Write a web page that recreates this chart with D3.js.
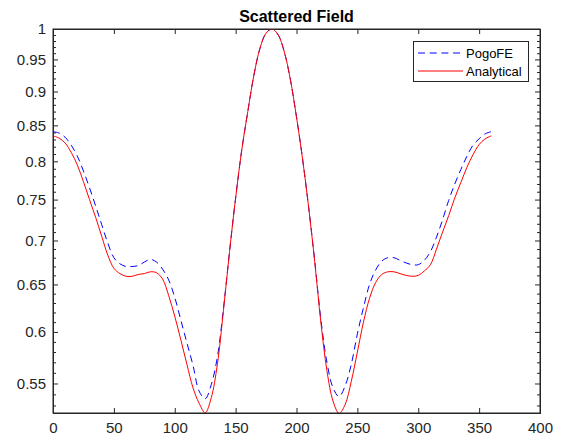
<!DOCTYPE html>
<html>
<head>
<meta charset="utf-8">
<script src="https://cdn.jsdelivr.net/npm/d3@7"></script>
<style>
  body { margin: 0; background: #fff; }
  svg { font-family: "Liberation Sans", Arial, sans-serif; }
  .tick text { fill: #262626; }
</style>
</head>
<body>
<div id="chart"></div>
<script>
// angle in degrees
const angles = [0, 5, 10, 15, 20, 25, 30, 35, 40, 45, 50, 55, 60, 65, 70, 75, 80, 85, 90,
    95, 100, 105, 110, 115, 120, 125, 130, 135, 140, 145, 150, 155, 160, 165, 170, 175, 180,
    185, 190, 195, 200, 205, 210, 215, 220, 225, 230, 235, 240, 245, 250, 255, 260, 265, 270,
    275, 280, 285, 290, 295, 300, 305, 310, 315, 320, 325, 330, 335, 340, 345, 350, 355, 360];

const pogoFE = [0.841, 0.839, 0.833, 0.822, 0.807, 0.787, 0.765, 0.742, 0.719, 0.697, 0.680,
    0.673, 0.670, 0.670, 0.671, 0.675, 0.678, 0.675, 0.667, 0.655, 0.636, 0.612, 0.589, 0.567,
    0.543, 0.536, 0.549, 0.575, 0.624, 0.687, 0.752, 0.815, 0.870, 0.925, 0.968, 0.993, 1.000,
    0.990, 0.962, 0.918, 0.862, 0.803, 0.740, 0.676, 0.613, 0.570, 0.546, 0.538, 0.548, 0.568,
    0.598, 0.625, 0.650, 0.666, 0.676, 0.680, 0.680, 0.677, 0.674, 0.672, 0.672, 0.677, 0.687,
    0.704, 0.725, 0.749, 0.770, 0.789, 0.807, 0.822, 0.831, 0.838, 0.841];

const analytical = [0.835, 0.832, 0.825, 0.812, 0.795, 0.773, 0.750, 0.728, 0.705, 0.683, 0.668,
    0.662, 0.659, 0.659, 0.661, 0.662, 0.664, 0.663, 0.656, 0.638, 0.616, 0.592, 0.568, 0.546,
    0.532, 0.5235, 0.537, 0.568, 0.622, 0.687, 0.752, 0.815, 0.870, 0.925, 0.968, 0.993, 1.000,
    0.990, 0.962, 0.918, 0.862, 0.803, 0.740, 0.675, 0.610, 0.562, 0.534, 0.523, 0.531, 0.552,
    0.580, 0.610, 0.635, 0.652, 0.661, 0.664, 0.664, 0.662, 0.660, 0.659, 0.660, 0.665, 0.672,
    0.690, 0.710, 0.730, 0.752, 0.772, 0.792, 0.809, 0.823, 0.831, 0.835];

const xTicks = [0, 50, 100, 150, 200, 250, 300, 350, 400];
const yTicks = [0.55, 0.6, 0.65, 0.7, 0.75, 0.8, 0.85, 0.9, 0.95, 1];
const yMinorTicks = [0.53, 0.54, 0.56, 0.57, 0.58, 0.59, 0.61, 0.62, 0.63, 0.64, 0.66, 0.67,
    0.68, 0.69, 0.71, 0.72, 0.73, 0.74, 0.76, 0.77, 0.78, 0.79, 0.81, 0.82, 0.83, 0.84, 0.86,
    0.87, 0.88, 0.89, 0.91, 0.92, 0.93, 0.94, 0.96, 0.97, 0.98, 0.99];

const W = 562, H = 444;
const pLeft = 53, pTop = 29, pRight = 540, pBottom = 413;

let svg = d3.select("#chart").append("svg")
    .attr("width", W)
    .attr("height", H);

let xScale = d3.scaleLinear().domain([0, 400]).range([pLeft, pRight]);
// log y axis, as in the MATLAB figure
let yScale = d3.scaleLog().domain([0.5233, 1]).range([pBottom, pTop]);

const axisColor = "#262626";

// bottom / top x axis
let xBottom = d3.axisBottom(xScale).tickValues(xTicks).tickSize(-5).tickPadding(9)
    .tickFormat(d3.format("d"));
let xTop = d3.axisTop(xScale).tickValues(xTicks).tickSize(-5).tickFormat("");

svg.append("g").attr("transform", "translate(0," + pBottom + ")").call(xBottom);
svg.append("g").attr("transform", "translate(0," + pTop + ")").call(xTop);

// left / right y axis
let yLeft = d3.axisLeft(yScale).tickValues(yTicks).tickSize(-5).tickPadding(7)
    .tickFormat(d => String(d));
let yRight = d3.axisRight(yScale).tickValues(yTicks).tickSize(-5).tickFormat("");
let yLeftMinor = d3.axisLeft(yScale).tickValues(yMinorTicks).tickSize(-3).tickFormat("");
let yRightMinor = d3.axisRight(yScale).tickValues(yMinorTicks).tickSize(-3).tickFormat("");

svg.append("g").attr("transform", "translate(" + pLeft + ",0)").call(yLeft);
svg.append("g").attr("transform", "translate(" + pRight + ",0)").call(yRight);
svg.append("g").attr("transform", "translate(" + pLeft + ",0)").call(yLeftMinor);
svg.append("g").attr("transform", "translate(" + pRight + ",0)").call(yRightMinor);

svg.selectAll(".domain").attr("stroke", axisColor);
svg.selectAll(".tick line").attr("stroke", axisColor);
svg.selectAll(".tick text").attr("font-size", "15px")
    .attr("font-family", "'Liberation Sans', Arial, sans-serif");

// clip the curves to the axes box
svg.append("clipPath").attr("id", "plotClip")
    .append("rect")
    .attr("x", pLeft).attr("y", pTop)
    .attr("width", pRight - pLeft).attr("height", pBottom - pTop);

let line = d3.line()
    .x(d => xScale(d[0]))
    .y(d => yScale(d[1]))
    .curve(d3.curveCatmullRom.alpha(0.5));

let blueData = angles.map((a, i) => [a, pogoFE[i]]);
let redData = angles.map((a, i) => [a, analytical[i]]);

let plot = svg.append("g").attr("clip-path", "url(#plotClip)");

plot.append("path")
    .datum(blueData)
    .attr("fill", "none")
    .attr("stroke", "#0000ff")
    .attr("stroke-width", 1)
    .attr("stroke-dasharray", "7,4.7")
    .attr("d", line);

plot.append("path")
    .datum(redData)
    .attr("fill", "none")
    .attr("stroke", "#ff0000")
    .attr("stroke-width", 1)
    .attr("d", line);

// box redraw on top
svg.append("rect")
    .attr("x", pLeft).attr("y", pTop)
    .attr("width", pRight - pLeft).attr("height", pBottom - pTop)
    .attr("fill", "none")
    .attr("stroke", axisColor)
    .attr("stroke-width", 1);

// title
svg.append("text")
    .attr("x", (pLeft + pRight) / 2)
    .attr("y", 22)
    .attr("text-anchor", "middle")
    .attr("font-size", "16px")
    .attr("font-weight", "bold")
    .attr("fill", "#000")
    .text("Scattered Field");

// legend
let legend = svg.append("g");
legend.append("rect")
    .attr("x", 413.5).attr("y", 41.5)
    .attr("width", 115).attr("height", 40)
    .attr("fill", "#fff")
    .attr("stroke", axisColor);

const legendItems = [
    { name: "PogoFE", color: "#0000ff", dash: "7,4.7" },
    { name: "Analytical", color: "#ff0000", dash: "none" }
];
legendItems.forEach((d, i) => {
    let yy = 53 + i * 18;
    legend.append("line")
        .attr("x1", 418).attr("x2", 463)
        .attr("y1", yy).attr("y2", yy)
        .attr("stroke", d.color)
        .attr("stroke-width", 1)
        .attr("stroke-dasharray", d.dash);
    legend.append("text")
        .attr("x", 466)
        .attr("y", yy + 4.5)
        .attr("font-size", "13px")
        .attr("fill", "#000")
        .text(d.name);
});
</script>
</body>
</html>
